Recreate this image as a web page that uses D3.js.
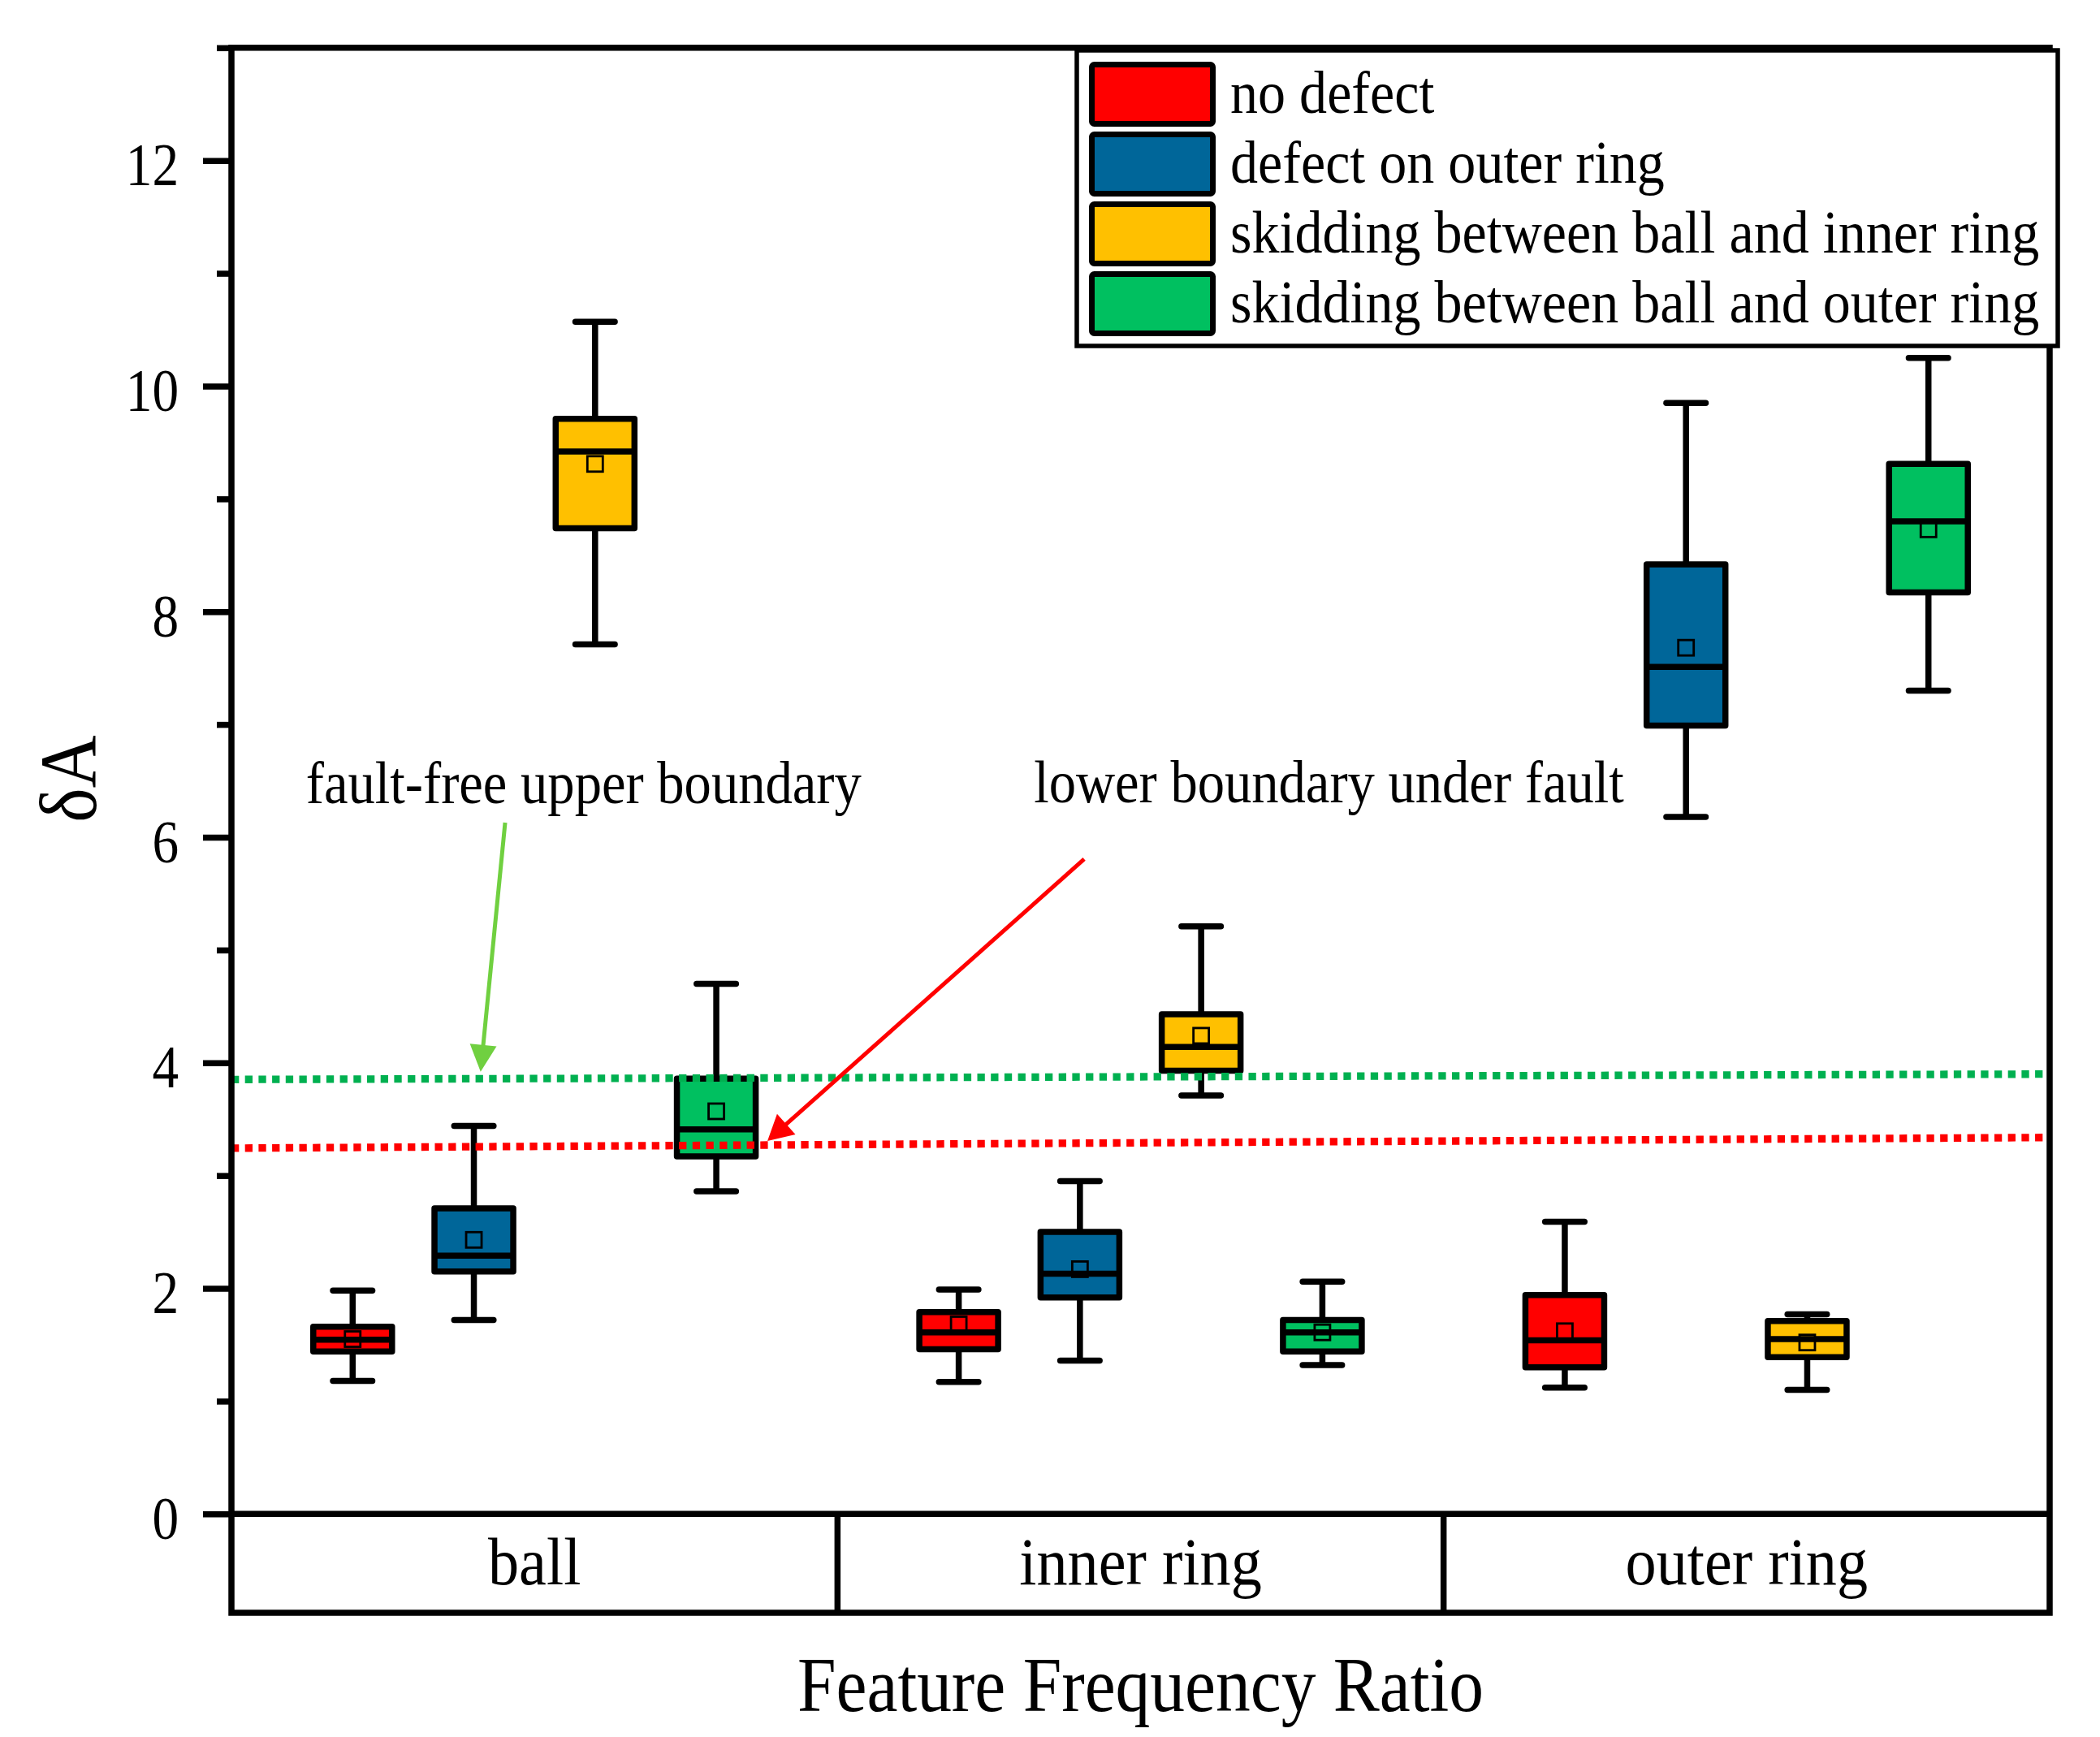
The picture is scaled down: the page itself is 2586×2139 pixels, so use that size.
<!DOCTYPE html>
<html><head><meta charset="utf-8">
<script src="https://cdn.jsdelivr.net/npm/d3@7"></script>
<style>html,body{margin:0;padding:0;background:#fff;} svg{display:block}</style>
</head><body>
<svg id="c" width="2586" height="2139"></svg>
<script>
// ---------- DATA ----------
const categories = ["ball", "inner ring", "outer ring"];
const seriesNames = ["no defect", "defect on outer ring", "skidding between ball and inner ring", "skidding between ball and outer ring"];
const seriesColors = ["#FF0000", "#006699", "#FFC000", "#00C060"];
// indexed [category][series]
const whiskerLow  = [[1.18, 1.72, 7.71, 2.86], [1.17, 1.36, 3.71, 1.32], [1.12, 6.18, 1.10, 7.30]];
const q1          = [[1.44, 2.15, 8.74, 3.17], [1.46, 1.92, 3.93, 1.44], [1.30, 6.99, 1.39, 8.17]];
const medians     = [[1.545, 2.29, 9.42, 3.41], [1.61, 2.13, 4.14, 1.61], [1.54, 7.51, 1.55, 8.80]];
const q3          = [[1.66, 2.71, 9.71, 3.86], [1.79, 2.50, 4.43, 1.72], [1.94, 8.42, 1.71, 9.31]];
const whiskerHigh = [[1.98, 3.44, 10.57, 4.70], [1.99, 2.95, 5.21, 2.06], [2.59, 9.85, 1.77, 10.25]];
const means       = [[1.55, 2.43, 9.31, 3.57], [1.68, 2.17, 4.24, 1.61], [1.62, 7.68, 1.52, 8.73]];
const majorTicks = [0, 2, 4, 6, 8, 10, 12];
const minorTicks = [1, 3, 5, 7, 9, 11, 13];
const yDomain = [0, 13];
// boundary lines: value at left and right edge of plot (x in category units 0..3)
const upperBoundary = [[0, 3.852], [3, 3.90]];
const lowerBoundary = [[0, 3.243], [3, 3.338]];
const annotations = [
  {text: "fault-free upper boundary", x: 0.123, y: 6.30},
  {text: "lower boundary under fault", x: 1.324, y: 6.31}
];
const arrows = [
  {from: [0.4516, 6.13], to: [0.4111, 3.921], color: "#70D040", head: 33, headW: 33},
  {from: [1.407, 5.806], to: [0.8844, 3.307], color: "#FF0000", head: 31, headW: 34}
];
const xTitle = "Feature Frequency Ratio";
const yTitle = "δA";

// ---------- LAYOUT ----------
const L = 285, R = 2524, T = 58.8, B = 1864.3, CB = 1986;
const SW = 7.5;
const FONT = "'Liberation Serif','Times New Roman',serif";

const svg = d3.select("#c");
const y = d3.scaleLinear().domain(yDomain).range([B, T]);
const xCat = d3.scaleBand().domain(categories).range([L, R]).padding(0);
const xSer = d3.scaleBand().domain(seriesNames).range([0, xCat.bandwidth()]).paddingInner(0.35).paddingOuter(0.675);
const xUnit = d3.scaleLinear().domain([0, 3]).range([L, R]);

function txt(str, x, yy, size, anchor, sx, rot) {
  return svg.append("text")
    .attr("transform", `translate(${x},${yy})` + (rot ? ` rotate(${rot})` : "") + ` scale(${sx},1)`)
    .attr("text-anchor", anchor)
    .attr("font-family", FONT)
    .attr("font-size", size)
    .attr("fill", "#000")
    .text(str);
}

// ---------- BOXES ----------
const bw = xSer.bandwidth();
const capHalf = bw * 0.25;
categories.forEach((cat, i) => {
  seriesNames.forEach((s, j) => {
    const cx = xCat(cat) + xSer(s) + bw / 2;
    const g = svg.append("g");
    g.append("line").attr("x1", cx).attr("x2", cx)
      .attr("y1", y(whiskerLow[i][j])).attr("y2", y(whiskerHigh[i][j]))
      .attr("stroke", "#000").attr("stroke-width", SW);
    [whiskerLow[i][j], whiskerHigh[i][j]].forEach(v => {
      g.append("line").attr("x1", cx - capHalf).attr("x2", cx + capHalf)
        .attr("y1", y(v)).attr("y2", y(v))
        .attr("stroke", "#000").attr("stroke-width", SW).attr("stroke-linecap", "round");
    });
    g.append("rect").attr("x", cx - bw / 2).attr("width", bw)
      .attr("y", y(q3[i][j])).attr("height", y(q1[i][j]) - y(q3[i][j]))
      .attr("fill", seriesColors[j]).attr("stroke", "#000").attr("stroke-width", SW)
      .attr("stroke-linejoin", "round");
    g.append("line").attr("x1", cx - bw / 2).attr("x2", cx + bw / 2)
      .attr("y1", y(medians[i][j])).attr("y2", y(medians[i][j]))
      .attr("stroke", "#000").attr("stroke-width", SW);
    g.append("rect").attr("x", cx - 9.5).attr("y", y(means[i][j]) - 9.5)
      .attr("width", 19).attr("height", 19)
      .attr("fill", "none").attr("stroke", "#000").attr("stroke-width", 2.8);
  });
});

// ---------- BOUNDARY LINES ----------
const line = d3.line().x(d => xUnit(d[0])).y(d => y(d[1]));
svg.append("path").attr("d", line(upperBoundary)).attr("fill", "none")
  .attr("stroke", "#00B050").attr("stroke-width", 9.3).attr("stroke-dasharray", "9.3,7.4");
svg.append("path").attr("d", line(lowerBoundary)).attr("fill", "none")
  .attr("stroke", "#FF0000").attr("stroke-width", 9.3).attr("stroke-dasharray", "9.3,7.4");

// ---------- FRAME ----------
svg.append("rect").attr("x", L).attr("y", T).attr("width", R - L).attr("height", CB - T)
  .attr("fill", "none").attr("stroke", "#000").attr("stroke-width", SW);
svg.append("line").attr("x1", L).attr("x2", R).attr("y1", B).attr("y2", B)
  .attr("stroke", "#000").attr("stroke-width", SW);
categories.slice(1).forEach(c => {
  svg.append("line").attr("x1", xCat(c)).attr("x2", xCat(c)).attr("y1", B).attr("y2", CB)
    .attr("stroke", "#000").attr("stroke-width", SW);
});
categories.forEach(c => {
  txt(c, xCat(c) + xCat.bandwidth() / 2, 1951, 82, "middle", 0.93);
});

// ---------- AXES ----------
const TSX = 0.87;
const ax = svg.append("g").attr("transform", `translate(${L},0)`)
  .call(d3.axisLeft(y).tickValues(majorTicks).tickSize(35).tickSizeOuter(0).tickFormat(d3.format("d")));
ax.select(".domain").remove();
ax.selectAll(".tick line").attr("stroke", "#000").attr("stroke-width", SW);
ax.selectAll(".tick text")
  .attr("font-family", FONT).attr("font-size", 75).attr("fill", "#000")
  .attr("x", -65 / TSX).attr("dy", "0.4em")
  .attr("transform", `scale(${TSX},1)`);
const axm = svg.append("g").attr("transform", `translate(${L},0)`)
  .call(d3.axisLeft(y).tickValues(minorTicks).tickSize(18).tickSizeOuter(0).tickFormat(""));
axm.select(".domain").remove();
axm.selectAll(".tick line").attr("stroke", "#000").attr("stroke-width", SW);

// ---------- TITLES ----------
txt(xTitle, (L + R) / 2, 2107, 95, "middle", 0.9);
txt(yTitle, 118, 959, 100, "middle", 0.9, -90);

// ---------- ANNOTATIONS ----------
annotations.forEach(a => txt(a.text, xUnit(a.x), y(a.y), 74, "start", 0.9));
arrows.forEach(a => {
  const x1 = xUnit(a.from[0]), y1 = y(a.from[1]), x2 = xUnit(a.to[0]), y2 = y(a.to[1]);
  const dx = x2 - x1, dy = y2 - y1, len = Math.hypot(dx, dy);
  const ux = dx / len, uy = dy / len, px = -uy, py = ux;
  const bx = x2 - ux * a.head, by = y2 - uy * a.head;
  svg.append("line").attr("x1", x1).attr("y1", y1).attr("x2", bx + ux * 2).attr("y2", by + uy * 2)
    .attr("stroke", a.color).attr("stroke-width", 5);
  svg.append("polygon")
    .attr("points", [[x2, y2], [bx + px * a.headW / 2, by + py * a.headW / 2], [bx - px * a.headW / 2, by - py * a.headW / 2]].map(p => p.join(",")).join(" "))
    .attr("fill", a.color);
});

// ---------- LEGEND ----------
const lg = svg.append("g");
lg.append("rect").attr("x", 1326).attr("y", 62).attr("width", 2534 - 1326).attr("height", 426 - 62)
  .attr("fill", "#fff").attr("stroke", "#000").attr("stroke-width", 5.5);
seriesNames.forEach((s, j) => {
  const yy = 79.5 + j * 86;
  lg.append("rect").attr("x", 1344.5).attr("y", yy).attr("width", 149).attr("height", 73)
    .attr("rx", 3).attr("fill", seriesColors[j]).attr("stroke", "#000").attr("stroke-width", 7)
    .attr("stroke-linejoin", "round");
  txt(s, 1515, yy + 36.5 + 23, 74, "start", 0.92);
});
</script>
</body></html>
